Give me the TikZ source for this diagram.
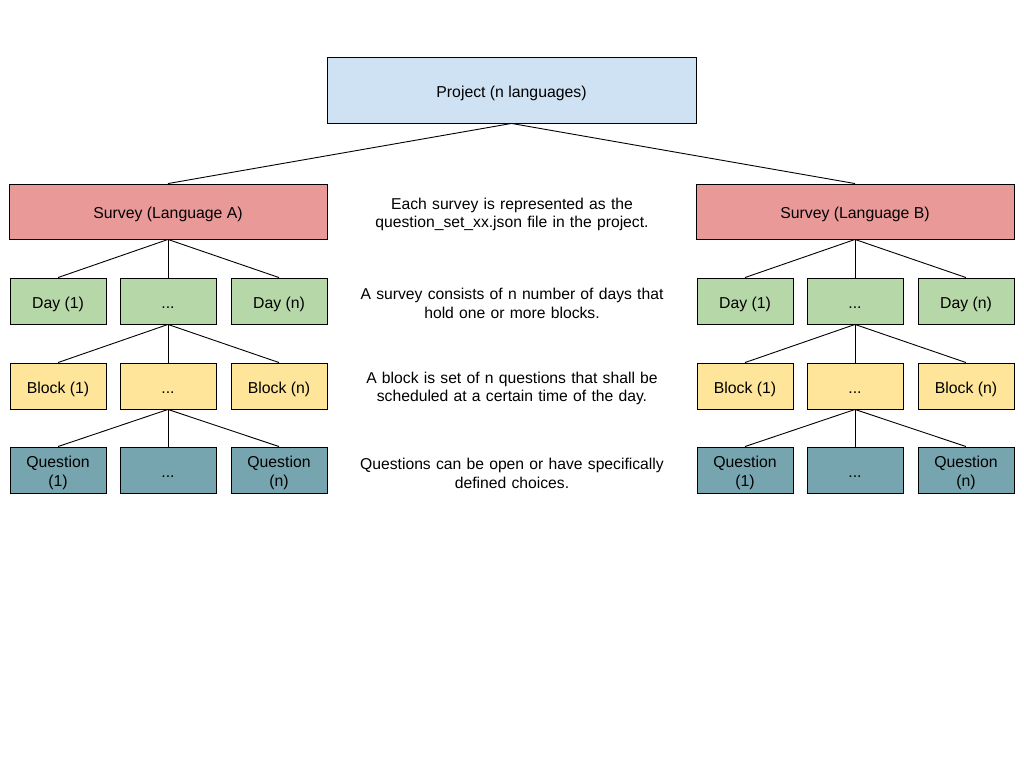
\documentclass[tikz,border=0pt]{standalone}
\usepackage{fontspec}
\setmainfont{Liberation Sans}
\definecolor{projcol}{HTML}{CFE2F3}
\definecolor{survcol}{HTML}{EA9999}
\definecolor{daycol}{HTML}{B6D7A8}
\definecolor{blockcol}{HTML}{FFE599}
\definecolor{qcol}{HTML}{76A5AF}
\newcommand{\moredots}{\vphantom{()}...}
\begin{document}
\begin{tikzpicture}[x=1pt,y=-1pt,
  every node/.style={font=\fontsize{15.8}{18.5}\selectfont, align=center, inner sep=0pt},
  box/.style={draw=black, line width=0.9pt, minimum width=96pt, minimum height=46pt},
  projbox/.style={box, fill=projcol, minimum width=369pt, minimum height=66pt},
  survbox/.style={box, fill=survcol, minimum width=318pt, minimum height=55pt},
  daybox/.style={box, fill=daycol},
  blockbox/.style={box, fill=blockcol},
  qbox/.style={box, fill=qcol},
  txt/.style={yshift=-3pt},
  note/.style={text width=340pt, yshift=-2.5pt, font=\fontsize{15.7}{18.5}\selectfont},
  link/.style={draw=black, line width=0.9pt}]
\useasboundingbox (0,0) rectangle (1024,768);

% root
\node[projbox, label={[txt]center:Project (n languages)}] (proj) at (511.5,90) {};

% one survey per language
\node[survbox, label={[txt]center:Survey (Language A)}] (sa) at (168,211.5) {};
\node[survbox, label={[txt]center:Survey (Language B)}] (sb) at (855,211.5) {};

% left tree
\node[daybox, label={[txt]center:Day (1)}] (da1) at (58,301) {};
\node[daybox, label={[txt]center:\moredots}] (da2) at (168,301) {};
\node[daybox, label={[txt]center:Day (n)}] (da3) at (279,301) {};
\node[blockbox, label={[txt]center:Block (1)}] (ba1) at (58,386) {};
\node[blockbox, label={[txt]center:\moredots}] (ba2) at (168,386) {};
\node[blockbox, label={[txt]center:Block (n)}] (ba3) at (279,386) {};
\node[qbox, label={[txt]center:Question\\(1)}] (qa1) at (58,470) {};
\node[qbox, label={[txt]center:\moredots}] (qa2) at (168,470) {};
\node[qbox, label={[txt]center:Question\\(n)}] (qa3) at (279,470) {};

% right tree
\node[daybox, label={[txt]center:Day (1)}] (db1) at (745,301) {};
\node[daybox, label={[txt]center:\moredots}] (db2) at (855,301) {};
\node[daybox, label={[txt]center:Day (n)}] (db3) at (966,301) {};
\node[blockbox, label={[txt]center:Block (1)}] (bb1) at (745,386) {};
\node[blockbox, label={[txt]center:\moredots}] (bb2) at (855,386) {};
\node[blockbox, label={[txt]center:Block (n)}] (bb3) at (966,386) {};
\node[qbox, label={[txt]center:Question\\(1)}] (qb1) at (745,470) {};
\node[qbox, label={[txt]center:\moredots}] (qb2) at (855,470) {};
\node[qbox, label={[txt]center:Question\\(n)}] (qb3) at (966,470) {};

% explanations
\node[note] (t1) at (512,212) {Each survey is represented as the\\question\_set\_xx.json file in the project.};
\node[note] (t2) at (512,301) {A survey consists of n number of days that\\hold one or more blocks.};
\node[note] (t3) at (512,386) {A block is set of n questions that shall be\\scheduled at a certain time of the day.};
\node[note] (t4) at (512,471) {Questions can be open or have specifically\\defined choices.};

% connectors
\draw[link] (proj.south) -- (sa.north);
\draw[link] (proj.south) -- (sb.north);
\foreach \s in {a,b}{
  \foreach \i in {1,2,3}{
    \draw[link] (s\s.south) -- (d\s\i.north);
    \draw[link] (d\s2.south) -- (b\s\i.north);
    \draw[link] (b\s2.south) -- (q\s\i.north);
  }
}
\end{tikzpicture}
\end{document}
